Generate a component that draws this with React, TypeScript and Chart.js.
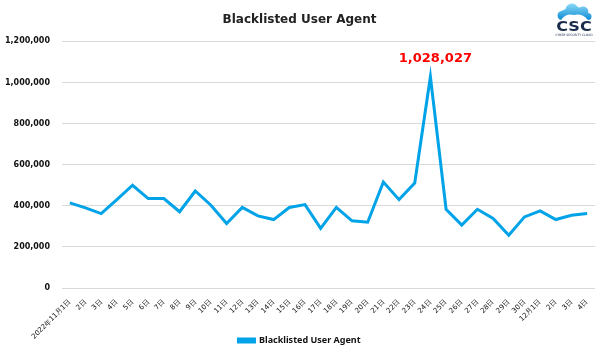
import React, { useEffect, useRef } from "react";
import { Chart, registerables } from "chart.js";

Chart.register(...registerables);

const categories = [
  "2022年11月1日", "2日", "3日", "4日", "5日", "6日", "7日", "8日", "9日", "10日",
  "11日", "12日", "13日", "14日", "15日", "16日", "17日", "18日", "19日", "20日",
  "21日", "22日", "23日", "24日", "25日", "26日", "27日", "28日", "29日", "30日",
  "12月1日", "2日", "3日", "4日",
];

const blacklistedUserAgent = [
  414000, 390000, 362000, 430000, 500000, 435000, 435000, 371000, 472000, 403000,
  314000, 392000, 351000, 333000, 392000, 406000, 290000, 392000, 327000, 320000,
  516000, 430000, 511000, 1028027, 383000, 306000, 383000, 338000, 257000, 346000,
  375000, 333000, 354000, 362000,
];

const yTicks = [0, 200000, 400000, 600000, 800000, 1000000, 1200000];

const peakIndex = 23;
const LINE_COLOR = "#00a3e8";

const peakLabelPlugin = {
  id: "peakLabel",
  afterLayout(chart: any) {
    const x = chart.scales.x;
    if (x) x.bottom = chart.height;
  },
  afterDatasetsDraw(chart: any) {
    const meta = chart.getDatasetMeta(0);
    const pt = meta.data[peakIndex];
    if (!pt) return;
    const ctx = chart.ctx;
    ctx.save();
    ctx.font = "bold 13px 'DejaVu Sans', Verdana, sans-serif";
    ctx.fillStyle = "#ff0000";
    ctx.textAlign = "center";
    ctx.textBaseline = "middle";
    const v = blacklistedUserAgent[peakIndex];
    ctx.fillText(v.toLocaleString("en-US"), pt.x + 5, pt.y - 18);
    ctx.restore();
  },
};

const logoPlugin = {
  id: "logo",
  afterDraw(chart: any) {
    const ctx = chart.ctx;
    ctx.save();
    const grad = ctx.createLinearGradient(0, 4, 0, 20);
    grad.addColorStop(0, "#8ad8f7");
    grad.addColorStop(1, "#0b8cd4");
    ctx.fillStyle = grad;
    ctx.beginPath();
    ctx.moveTo(558, 20);
    ctx.arc(562, 15.5, 4.5, Math.PI * 0.55, Math.PI * 1.45, false);
    ctx.arc(572, 10, 6.5, Math.PI * 1.05, Math.PI * 1.85, false);
    ctx.arc(583, 12, 5.5, Math.PI * 1.3, Math.PI * 1.95, false);
    ctx.arc(588, 16.5, 3.5, Math.PI * 1.5, Math.PI * 0.5, false);
    ctx.closePath();
    ctx.fill();
    ctx.fillStyle = "#ffffff";
    ctx.beginPath();
    ctx.moveTo(561, 20);
    ctx.quadraticCurveTo(566, 13, 574, 15);
    ctx.quadraticCurveTo(582, 13, 588, 20);
    ctx.closePath();
    ctx.fill();
    ctx.fillStyle = "#1b2b4b";
    ctx.font = "bold 14px 'DejaVu Sans', sans-serif";
    ctx.textAlign = "center";
    ctx.textBaseline = "middle";
    ctx.save();
    ctx.translate(574, 27);
    ctx.scale(1.15, 1);
    ctx.fillText("CSC", 0, 0);
    ctx.restore();
    ctx.font = "3px 'DejaVu Sans', sans-serif";
    ctx.fillText("CYBER SECURITY CLOUD", 574, 35);
    ctx.restore();
  },
};

export default function App() {
  const ref = useRef<HTMLCanvasElement | null>(null);

  useEffect(() => {
    document.body.style.margin = "0";
    if (!ref.current) return;
    const chart = new Chart(ref.current, {
      type: "line",
      data: {
        labels: categories,
        datasets: [
          {
            label: "Blacklisted User Agent",
            data: blacklistedUserAgent,
            borderColor: LINE_COLOR,
            backgroundColor: LINE_COLOR,
            borderWidth: 3,
            pointRadius: 0,
            tension: 0,
            fill: false,
          },
        ],
      },
      options: {
        animation: false,
        responsive: false,
        maintainAspectRatio: false,
        layout: { padding: { left: 4, right: 5, top: 9, bottom: 2 } },
        plugins: {
          title: {
            display: true,
            text: "Blacklisted User Agent",
            color: "#222222",
            font: { family: "'DejaVu Sans', Verdana, sans-serif", size: 12, weight: "bold" },
            padding: { top: 4, bottom: 14 },
          },
          legend: {
            display: true,
            position: "bottom",
            labels: {
              color: "#111111",
              boxWidth: 16,
              boxHeight: 3,
              font: { family: "'Noto Sans', sans-serif", size: 9, weight: "bold" },
              padding: 8,
            },
          },
          tooltip: { enabled: false },
        },
        scales: {
          x: {
            offset: true,
            grid: { display: false },
            border: { display: false },
            afterFit(axis: any) {
              axis.height = 40;
            },
            ticks: {
              autoSkip: false,
              maxRotation: 45,
              minRotation: 45,
              color: "#111111",
              padding: 2,
              font: { family: "'DejaVu Sans', Verdana, sans-serif", size: 7 },
            },
          },
          y: {
            min: 0,
            max: 1200000,
            afterBuildTicks(axis: any) {
              axis.ticks = yTicks.map((v) => ({ value: v }));
            },
            afterFit(axis: any) {
              axis.width = 58;
            },
            grid: { color: "#d9d9d9", lineWidth: 1, drawTicks: false },
            border: { display: false },
            ticks: {
              color: "#111111",
              padding: 12,
              font: { family: "'DejaVu Sans', Verdana, sans-serif", size: 8, weight: "bold" },
              callback: (v: any) => Number(v).toLocaleString("en-US"),
            },
          },
        },
      },
      plugins: [peakLabelPlugin, logoPlugin],
    });
    return () => chart.destroy();
  }, []);

  return (
    <div style={{ position: "absolute", left: 0, top: 0, width: 600, height: 357 }}>
      <canvas ref={ref} width={600} height={357} style={{ width: 600, height: 357 }} />
    </div>
  );
}
